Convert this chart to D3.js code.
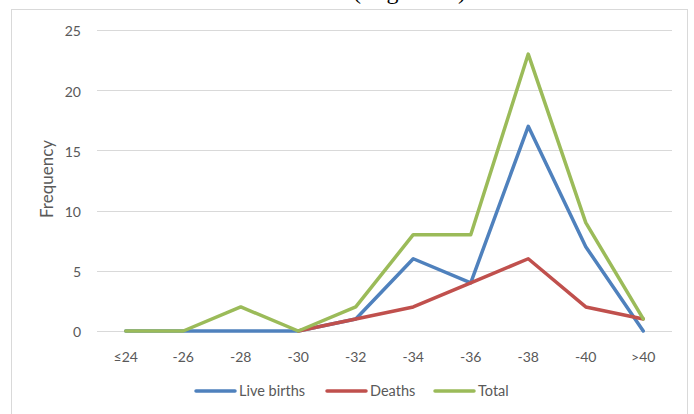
<!DOCTYPE html>
<html>
<head>
<meta charset="utf-8">
<script src="https://cdn.jsdelivr.net/npm/d3@7"></script>
<style>
  html, body { margin: 0; padding: 0; background: #fff; }
  svg { display: block; }
</style>
</head>
<body>
<svg id="chart" width="694" height="414"></svg>
<script>
// Gestational age categories (weeks)
const categories = ["≤24", "-26", "-28", "-30", "-32", "-34", "-36", "-38", "-40", ">40"];
const liveBirths = [0, 0, 0, 0, 1, 6, 4, 17, 7, 0];
const deaths     = [null, null, null, 0, 1, 2, 4, 6, 2, 1];
const total      = [0, 0, 2, 0, 2, 8, 8, 23, 9, 1];
const yTicks = [0, 5, 10, 15, 20, 25];

const seriesNames  = ["Live births", "Deaths", "Total"];
const seriesValues = [liveBirths, deaths, total];
const seriesColors = ["#4f81bd", "#c0504d", "#9bbb59"];

const svg = d3.select("#chart");
const font = "Lato, 'Open Sans', sans-serif";
const textColor = "#595959";

// caption above the chart frame, mostly clipped by the page edge
svg.append("text")
  .attr("x", 353).attr("y", -1.5)
  .attr("font-family", "'Liberation Serif', serif")
  .attr("font-size", 24)
  .attr("textLength", 113)
  .attr("lengthAdjust", "spacing")
  .attr("fill", "#000")
  .text("(Figure 1)");

// chart frame
svg.append("rect")
  .attr("x", 11.5).attr("y", 9.5)
  .attr("width", 676).attr("height", 420)
  .attr("fill", "none")
  .attr("stroke", "#d9d9d9")
  .attr("stroke-width", 1);

const x = d3.scaleBand().domain(categories).range([97, 672]);
const y = d3.scaleLinear().domain([0, 25]).range([331, 30]);

// horizontal gridlines
svg.append("g")
  .selectAll("line")
  .data(yTicks)
  .join("line")
  .attr("x1", 97).attr("x2", 672)
  .attr("y1", d => Math.round(y(d)) + 0.5)
  .attr("y2", d => Math.round(y(d)) + 0.5)
  .attr("stroke", "#d9d9d9")
  .attr("stroke-width", 1);

// y axis labels
const yAxis = d3.axisLeft(y).tickValues(yTicks).tickSize(0).tickPadding(0);
const yg = svg.append("g").attr("transform", "translate(81,1)").call(yAxis);
yg.select(".domain").remove();
yg.selectAll("text")
  .attr("font-family", font).attr("font-size", 14).attr("fill", textColor)
  .attr("dy", "0.35em");

// x axis labels
const xAxis = d3.axisBottom(x).tickSize(0).tickPadding(0);
const xg = svg.append("g").attr("transform", "translate(0,362)").call(xAxis);
xg.select(".domain").remove();
xg.selectAll("text")
  .attr("font-family", font).attr("font-size", 14).attr("fill", textColor)
  .attr("dy", "0");

// y axis title
svg.append("text")
  .attr("transform", "translate(53,179) rotate(-90)")
  .attr("text-anchor", "middle")
  .attr("font-family", font).attr("font-size", 17).attr("fill", textColor)
  .text("Frequency");

// series lines
const line = d3.line()
  .defined(d => d.v !== null)
  .x(d => x(d.c) + x.bandwidth() / 2)
  .y(d => y(d.v));

seriesValues.forEach((vals, i) => {
  const pts = categories.map((c, j) => ({ c, v: vals[j] }));
  svg.append("path")
    .datum(pts)
    .attr("d", line)
    .attr("fill", "none")
    .attr("stroke", seriesColors[i])
    .attr("stroke-width", 3.5)
    .attr("stroke-linejoin", "round")
    .attr("stroke-linecap", "round");
});

// legend
const legendItems = [
  { sx: 196, tx: 239 },
  { sx: 327, tx: 370 },
  { sx: 435, tx: 478 }
];
const lg = svg.append("g");
legendItems.forEach((p, i) => {
  lg.append("line")
    .attr("x1", p.sx).attr("x2", p.sx + 39)
    .attr("y1", 391).attr("y2", 391)
    .attr("stroke", seriesColors[i]).attr("stroke-width", 3.5)
    .attr("stroke-linecap", "round");
  lg.append("text")
    .attr("x", p.tx).attr("y", 391).attr("dy", "0.35em")
    .attr("font-family", font).attr("font-size", 14.5).attr("fill", textColor)
    .text(seriesNames[i]);
});
</script>
</body>
</html>
